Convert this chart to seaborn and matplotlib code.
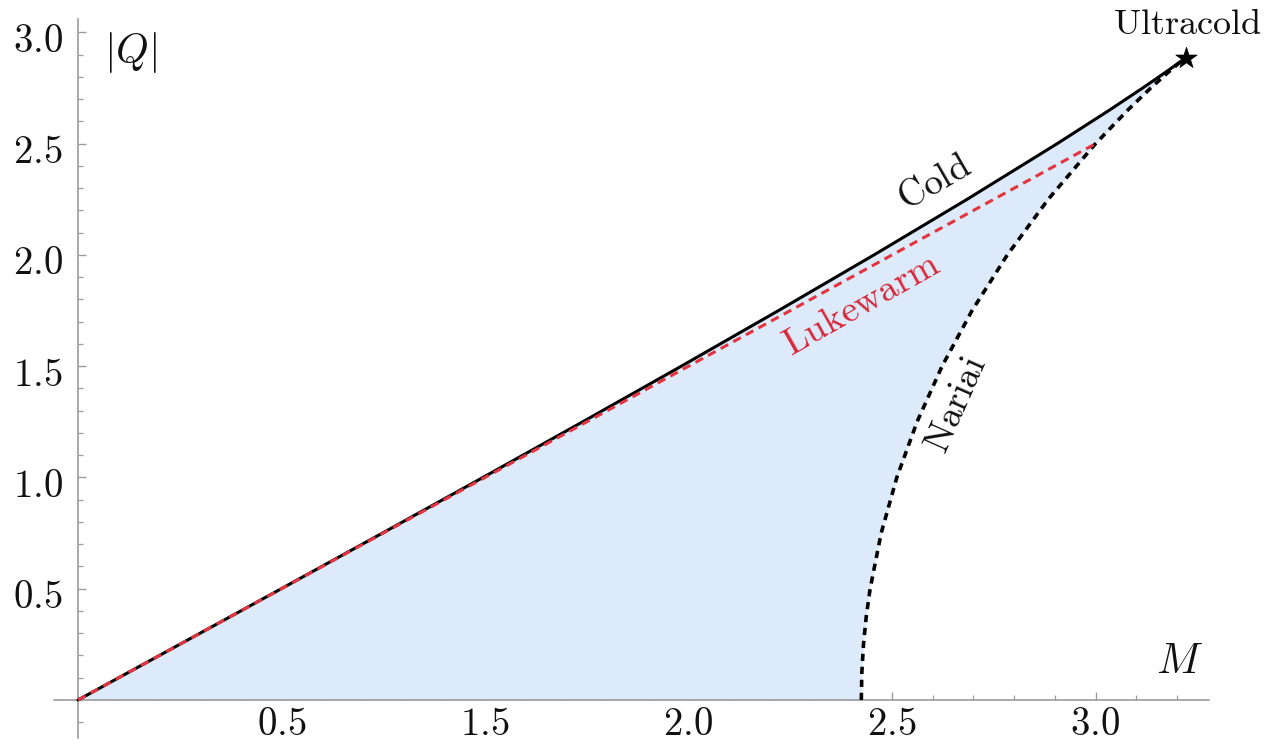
import matplotlib
matplotlib.use("Agg")
import matplotlib.pyplot as plt
import seaborn as sns
from matplotlib.ticker import MultipleLocator
from matplotlib.transforms import ScaledTranslation

# ---- data ----
# |Q| values shared by the two boundary curves of the shaded region
q_grid = [0.0, 0.125, 0.25, 0.375, 0.5, 0.75, 1.0, 1.25, 1.5, 1.75, 2.0,
          2.25, 2.5, 2.65, 2.75, 2.82, 2.86, 2.88, 2.887]
# M of the "Cold" boundary (solid black)
cold_m = [0.0, 0.12499, 0.24992, 0.37473, 0.49937, 0.74787, 0.99488, 1.23986,
          1.48217, 1.72104, 1.95554, 2.18437, 2.40563, 2.53337, 2.61561,
          2.67121, 2.70190, 2.71677, 2.72166]
# M of the "Nariai" boundary (dotted black)
nariai_m = [1.92450, 1.92587, 1.92992, 1.93669, 1.94619, 1.97343, 2.01178,
            2.06150, 2.12294, 2.19660, 2.28318, 2.38374, 2.50000, 2.57858,
            2.63546, 2.67798, 2.70362, 2.71700, 2.72166]
# "Lukewarm" line (red dashed)
lukewarm_m = [0.0, 2.5]
lukewarm_q = [0.0, 2.5]
# "Ultracold" point
ultracold_m = [2.7217]
ultracold_q = [2.8868]

x_tick_pos = [0.5, 1.0, 1.5, 2.0, 2.5]
x_tick_labels = ["0.5", "1.5", "2.0", "2.5", "3.0"]
y_tick_pos = [0.5, 1.0, 1.5, 2.0, 2.5, 3.0]
y_tick_labels = ["0.5", "1.0", "1.5", "2.0", "2.5", "3.0"]

# ---- style ----
sns.set_theme(style="white")
plt.rcParams["mathtext.fontset"] = "cm"
plt.rcParams["font.family"] = ["DejaVu Serif", "DejaVu Sans"]

fig = plt.figure(figsize=(12.67, 7.5), dpi=100)
ax = fig.add_axes([0.04231, 0.01627, 0.9123, 0.95827])
ax.set_facecolor("white")

fill_col = "#ddeaf9"
red = "#e3343f"
axis_col = "#9c9c9c"
text_col = "#111111"

ax.fill_betweenx(q_grid, cold_m, nariai_m, color=fill_col, lw=0, zorder=1)

sns.lineplot(x=cold_m, y=q_grid, sort=False, estimator=None, ax=ax,
             color="black", linewidth=2.2, zorder=3)
sns.lineplot(x=nariai_m, y=q_grid, sort=False, estimator=None, ax=ax,
             color="black", linewidth=2.6, linestyle=(0, (2.0, 1.6)), zorder=3)
sns.lineplot(x=lukewarm_m, y=lukewarm_q, sort=False, estimator=None, ax=ax,
             color=red, linewidth=2.2, linestyle=(0, (2.8, 1.9)), zorder=4)
sns.scatterplot(x=ultracold_m, y=ultracold_q, marker="*", s=260, color="black",
                edgecolor="black", linewidth=0.5, ax=ax, zorder=5)

ax.set_xlim(-0.06, 2.78)
ax.set_ylim(-0.17, 3.06)

for s in ["top", "right"]:
    ax.spines[s].set_visible(False)
for s in ["left", "bottom"]:
    ax.spines[s].set_position(("data", 0))
    ax.spines[s].set_color(axis_col)
    ax.spines[s].set_linewidth(1.2)
    ax.spines[s].set_zorder(2)

ax.set_xticks(x_tick_pos, labels=[f"${t}$" for t in x_tick_labels])
ax.set_yticks(y_tick_pos, labels=[f"${t}$" for t in y_tick_labels])
ax.xaxis.set_minor_locator(MultipleLocator(0.1))
ax.yaxis.set_minor_locator(MultipleLocator(0.1))
ax.tick_params(which="both", bottom=True, left=True, top=False, right=False,
               direction="in", color=axis_col)
ax.tick_params(which="major", length=6, width=1.0,
               labelsize=28, labelcolor=text_col)
ax.tick_params(which="minor", length=3.5, width=0.9)
ax.tick_params(axis="x", which="major", pad=4)
ax.tick_params(axis="y", which="major", pad=11)
ax.grid(False)

# y tick labels sit slightly below their ticks in the reference
shift = ScaledTranslation(0, -5 / 100, fig.dpi_scale_trans)
for t in ax.yaxis.get_major_ticks():
    t.label1.set_transform(t.label1.get_transform() + shift)

# axis titles
ax.text(0.128, 2.912, r"$|Q|$", fontsize=30, ha="center", va="center",
        color=text_col)
ax.text(2.707, 0.175, r"$M$", fontsize=31, ha="center", va="center",
        color=text_col)

# curve labels
ax.text(2.725, 3.04, r"$\mathrm{Ultracold}$", fontsize=26, ha="center",
        va="center", color=text_col)
ax.text(2.106, 2.324, r"$\mathrm{Cold}$", fontsize=27, ha="center",
        va="center", rotation=30, rotation_mode="anchor", color=text_col)
ax.text(1.926, 1.775, r"$\mathrm{Lukewarm}$", fontsize=27, ha="center",
        va="center", rotation=29.5, rotation_mode="anchor", color="#d8283a")
ax.text(2.160, 1.326, r"$\mathrm{Nariai}$", fontsize=27, ha="center",
        va="center", rotation=66, rotation_mode="anchor", color=text_col)

fig.savefig("out.png", dpi=100, facecolor="white")
